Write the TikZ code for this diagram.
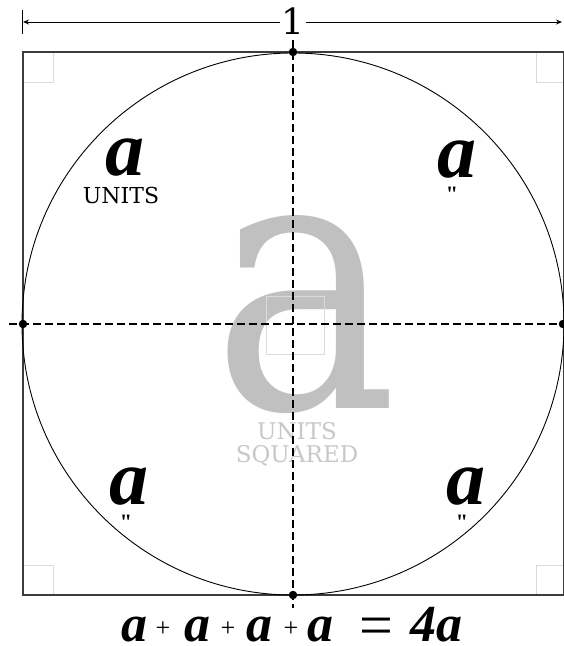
\documentclass[tikz,border=0pt]{standalone}
\usepackage{fontspec}
\setmainfont{DejaVu Serif}
\newfontfamily\eqfamily{Liberation Serif}
\usetikzlibrary{arrows.meta}
\definecolor{bigGray}{RGB}{192,192,192}
\definecolor{sqGray}{RGB}{200,200,200}
\definecolor{boxGray}{RGB}{218,218,218}
\definecolor{frameGray}{RGB}{60,60,60}
\tikzset{
  dot/.style={circle, fill=black, inner sep=0pt, minimum size=8.5pt},
  axis/.style={dashed, dash pattern=on 8pt off 4pt, line width=1.3pt},
  rightbox/.style={draw=boxGray, line width=0.8pt},
  cornera/.style={inner sep=0pt, anchor=base, font=\eqfamily\bfseries\itshape\fontsize{78}{78}\selectfont},
  eqa/.style={inner sep=0pt, anchor=base, font=\eqfamily\bfseries\itshape\fontsize{52}{52}\selectfont},
  eqplus/.style={inner sep=0pt, anchor=base, font=\eqfamily\fontsize{26}{26}\selectfont},
  eqsign/.style={inner sep=0pt, anchor=base, font=\eqfamily\fontsize{60}{60}\selectfont},
  ditto/.style={inner sep=0pt, anchor=base, font=\eqfamily\bfseries\fontsize{22}{22}\selectfont},
  unitsblack/.style={inner sep=0pt, anchor=base, font=\fontsize{22}{22}\selectfont},
  unitsgray/.style={inner sep=0pt, anchor=base, text=sqGray, font=\fontsize{23}{23}\selectfont},
}
\begin{document}
\begin{tikzpicture}[x=1pt,y=-1pt]
\useasboundingbox[fill=white] (0,0) rectangle (563,646);
% big gray a
\node[inner sep=0pt, anchor=base, text=bigGray, font=\fontsize{362}{362}\selectfont, xscale=0.86] (biga) at (305,408) {a};
\node[unitsgray] (u1) at (297,439) {UNITS};
\node[unitsgray] (u2) at (297,462) {SQUARED};
% right-angle boxes
\draw[rightbox] (266,296) rectangle (324,354);
\draw[rightbox] (23,52) rectangle (53,82);
\draw[rightbox] (536,52) rectangle (566,82);
\draw[rightbox] (23,565) rectangle (53,595);
\draw[rightbox] (536,565) rectangle (566,595);
% frame square
\draw[frameGray, line width=1.3pt] (23,52) rectangle (564,595);
% circle
\node[draw, circle, line width=0.9pt, inner sep=0pt, minimum size=542pt] (circ) at (293,324) {};
% dashed axes
\coordinate (vt) at (293,40);
\coordinate (vb) at (293,608);
\coordinate (hl) at (9,324);
\coordinate (hr) at (563,324);
\draw[axis] (vt) -- (vb);
\draw[axis] (hl) -- (hr);
% dots
\node[dot] (ptop) at (293,52) {};
\node[dot] (pbot) at (293,595) {};
\node[dot] (pleft) at (23,324) {};
\node[dot] (pright) at (563,324) {};
% dimension line
\coordinate (tickt) at (22,10);
\coordinate (tickb) at (22,34);
\draw[line width=1pt] (tickt) -- (tickb);
\coordinate (dimL) at (23,22);
\coordinate (dimR) at (562,22);
\draw[line width=1pt, {Stealth[length=6pt,width=5pt]}-{Stealth[length=6pt,width=5pt]}] (dimL) -- (dimR);
\node[fill=white, inner sep=2pt, font=\fontsize{36}{36}\selectfont] (one) at (293,21) {1};
% corner labels
\node[cornera] (aTL) at (125,175) {a};
\node[unitsblack] (uTL) at (121,203) {UNITS};
\node[cornera] (aTR) at (457,177) {a};
\node[ditto] (dTR) at (452,201) {"};
\node[cornera] (aBL) at (129,504) {a};
\node[ditto] (dBL) at (126,529) {"};
\node[cornera] (aBR) at (466,504) {a};
\node[ditto] (dBR) at (462,529) {"};
% equation
\node[eqa] (e1) at (134,641) {a};
\node[eqplus] (p1) at (163,636) {+};
\node[eqa] (e2) at (197,641) {a};
\node[eqplus] (p2) at (228,636) {+};
\node[eqa] (e3) at (259,641) {a};
\node[eqplus] (p3) at (291,636) {+};
\node[eqa] (e4) at (320,641) {a};
\node[eqsign] (eqs) at (376,645) {=};
\node[eqa] (e5) at (436,641) {4a};
\end{tikzpicture}
\end{document}
